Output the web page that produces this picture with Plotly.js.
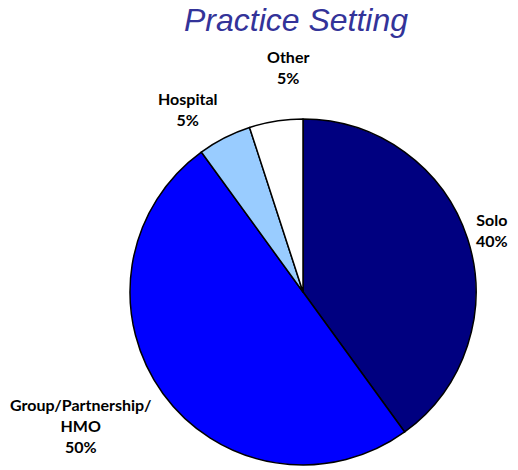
<!DOCTYPE html>
<html>
<head>
<meta charset="utf-8">
<script src="https://cdn.plot.ly/plotly-3.0.1.min.js"></script>
<style>html,body{margin:0;padding:0;background:#fff;}#chart{width:518px;height:470px;}</style>
</head>
<body>
<div id="chart"></div>
<script>
const categories = ["Solo", "Group/Partnership/<br>HMO", "Hospital", "Other"];
const values = [40, 50, 5, 5];
const colors = ["#000080", "#0000FF", "#99CCFF", "#FFFFFF"];
const labelPos = [[492, 230], [80, 425], [188, 109], [288, 67]];

const W = 518, H = 470;
const annotations = categories.map((c, i) => ({
  x: labelPos[i][0] / W, y: 1 - labelPos[i][1] / H,
  xref: 'paper', yref: 'paper', xanchor: 'center', yanchor: 'middle',
  showarrow: false, align: 'center',
  text: '<b>' + c + '<br>' + values[i] + '%</b>',
  font: {family: 'Lato, "DejaVu Sans", sans-serif', size: 16, color: '#000'}
}));

Plotly.newPlot('chart', [{
  type: 'pie',
  labels: categories,
  values: values,
  marker: {colors: colors, line: {color: '#000', width: 1.5}},
  sort: false,
  direction: 'clockwise',
  rotation: 0,
  textinfo: 'none',
  hoverinfo: 'label+percent',
  domain: {x: [130 / W, 476 / W], y: [5 / H, 351 / H]},
  showlegend: false
}], {
  width: W, height: H,
  margin: {l: 0, r: 0, t: 0, b: 0},
  paper_bgcolor: '#fff',
  title: {text: '<i>Practice Setting</i>', x: 296 / W, xanchor: 'center', y: 1 - 20 / H, yanchor: 'middle',
    font: {family: '"Liberation Sans", Arial, sans-serif', size: 32, color: '#333399'}},
  annotations: annotations
}, {displayModeBar: false, staticPlot: true});
</script>
</body>
</html>
